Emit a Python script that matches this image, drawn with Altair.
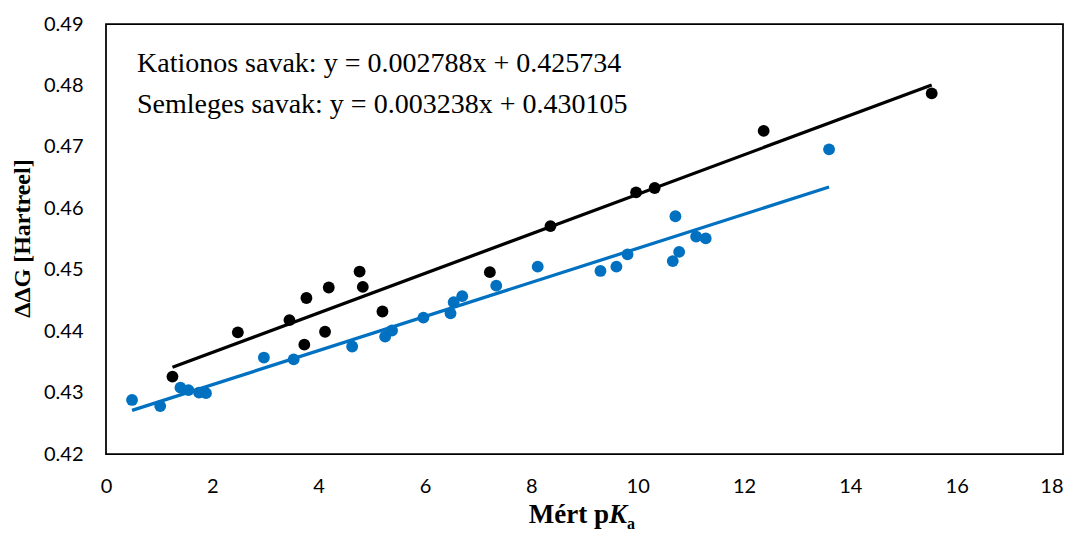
import altair as alt
import pandas as pd

# Kationos (black) points
kat_x = [1.25, 2.48, 3.45, 3.73, 3.77, 4.19, 4.12, 4.77, 4.83, 5.20, 7.22, 8.36, 9.97, 10.32, 12.37, 15.53]
kat_y = [0.4326, 0.4398, 0.4418, 0.4378, 0.4454, 0.4471, 0.4399, 0.4497, 0.4472, 0.4432, 0.4496, 0.4571, 0.4626, 0.4633, 0.4726, 0.4787]

# Semleges (blue) points
sem_x = [0.49, 1.02, 1.40, 1.55, 1.75, 1.88, 2.97, 3.53, 4.63, 5.25, 5.38, 5.97, 6.48, 6.54, 6.70,
         7.34, 8.12, 9.30, 9.60, 9.81, 10.66, 10.78, 10.71, 11.10, 11.28, 13.60]
sem_y = [0.4288, 0.4278, 0.4308, 0.4304, 0.4300, 0.4299, 0.4357, 0.4354, 0.4375, 0.4391, 0.4401, 0.4422,
         0.4429, 0.4447, 0.4457, 0.4474, 0.4505, 0.4498, 0.4505, 0.4525, 0.4514, 0.4529, 0.4587, 0.4554,
         0.4551, 0.4696]

series_names = ["Kationos", "Semleges"]
series_colors = ["#000000", "#0070C0"]

annot_lines = ["Kationos savak: y = 0.002788x + 0.425734",
               "Semleges savak: y = 0.003238x + 0.430105"]

x_title_main = "Mért p"
x_title_k = "K"
x_title_sub = "a"
y_title = "ΔΔG [Hartreel]"

df = pd.DataFrame({
    "x": kat_x + sem_x,
    "y": kat_y + sem_y,
    "series": [series_names[0]] * len(kat_x) + [series_names[1]] * len(sem_x),
})

x_scale = alt.Scale(domain=[0, 18], nice=False)
y_scale = alt.Scale(domain=[0.42, 0.49], nice=False, zero=False)
color = alt.Color("series:N", scale=alt.Scale(domain=series_names, range=series_colors), legend=None)

x_enc = alt.X("x:Q", scale=x_scale,
              axis=alt.Axis(values=list(range(0, 19, 2)), title=None, grid=False, ticks=False, tickSize=0,
                            domain=False, labelFont="Lato", labelFontSize=20, labelColor="#000000",
                            labelPadding=22, labelFlush=False, labelOverlap=False,
                            labelAlign=alt.expr("datum.value == 18 ? 'right' : 'center'")))
y_enc = alt.Y("y:Q", scale=y_scale,
              axis=alt.Axis(values=[0.42, 0.43, 0.44, 0.45, 0.46, 0.47, 0.48, 0.49], format=".2f",
                            title=y_title, grid=False, ticks=False, tickSize=0, domain=False,
                            labelFont="Lato", labelFontSize=20, labelColor="#000000", labelPadding=23,
                            labelFlush=False, labelOverlap=False,
                            titleFont="Liberation Serif", titleFontSize=24, titleFontWeight="bold",
                            titleColor="#000000", titleAngle=270, titleX=-84, titleY=214,
                            titleAlign="center", titleBaseline="middle"))

points = alt.Chart(df).mark_circle(size=140, opacity=1).encode(x=x_enc, y=y_enc, color=color)

lines = alt.Chart(df).transform_regression("x", "y", groupby=["series"]).mark_line(
    strokeWidth=3.25).encode(x="x:Q", y="y:Q", color=color)

ann1 = alt.Chart(pd.DataFrame({"t": [annot_lines[0]]})).mark_text(
    align="left", baseline="alphabetic", font="Liberation Serif", fontSize=28, color="#000000"
).encode(text="t:N", x=alt.value(31), y=alt.value(48))
ann2 = alt.Chart(pd.DataFrame({"t": [annot_lines[1]]})).mark_text(
    align="left", baseline="alphabetic", font="Liberation Serif", fontSize=28, color="#000000"
).encode(text="t:N", x=alt.value(31), y=alt.value(89))

xt1 = alt.Chart(pd.DataFrame({"t": [x_title_main]})).mark_text(
    align="right", baseline="alphabetic", font="Liberation Serif", fontSize=27, fontWeight="bold",
    color="#000000"
).encode(text="t:N", x=alt.value(503), y=alt.value(499))
xt2 = alt.Chart(pd.DataFrame({"t": [x_title_k]})).mark_text(
    align="left", baseline="alphabetic", font="Liberation Serif", fontSize=27, fontWeight="bold",
    fontStyle="italic", color="#000000"
).encode(text="t:N", x=alt.value(503), y=alt.value(499))
xt3 = alt.Chart(pd.DataFrame({"t": [x_title_sub]})).mark_text(
    align="left", baseline="alphabetic", font="Liberation Serif", fontSize=16, fontWeight="bold",
    color="#000000"
).encode(text="t:N", x=alt.value(521), y=alt.value(505))

chart = alt.layer(points, lines, ann1, ann2, xt1, xt2, xt3).properties(
    width=957, height=430,
    autosize=alt.AutoSizeParams(type="none"),
    padding={"left": 98, "top": 16, "right": 5, "bottom": 78},
).configure_view(stroke="#000000", strokeWidth=1.75)

chart.save("out.html", embed_options={"renderer": "svg", "actions": False})
